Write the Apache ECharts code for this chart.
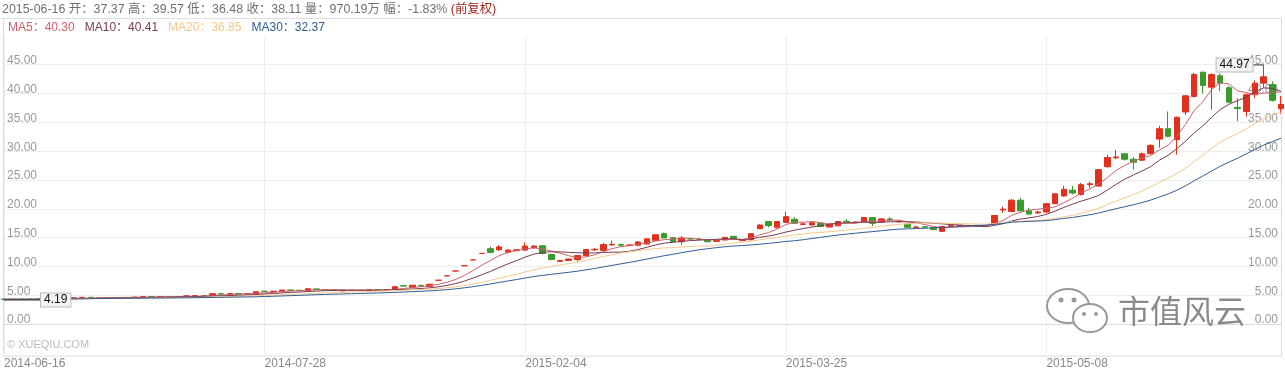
<!DOCTYPE html>
<html><head><meta charset="utf-8">
<script src="https://cdn.jsdelivr.net/npm/echarts@6/dist/echarts.min.js"></script>
<style>html,body{margin:0;padding:0;background:#fff}#c{width:1285px;height:370px}</style>
</head><body><div id="c"></div><script>
const dates=[
'2014-06-16','2014-06-17','2014-06-18','2014-06-19','2014-06-20','2014-06-23','2014-06-24','2014-06-25','2014-06-26','2014-06-27',
'2014-06-30','2014-07-01','2014-07-02','2014-07-03','2014-07-04','2014-07-07','2014-07-08','2014-07-09','2014-07-10','2014-07-11',
'2014-07-14','2014-07-15','2014-07-16','2014-07-17','2014-07-18','2014-07-21','2014-07-22','2014-07-23','2014-07-24','2014-07-25',
'2014-07-28','2014-07-29','2014-07-30','2014-07-31','2014-08-01','2014-08-04','2014-08-05','2014-08-06','2014-08-07','2014-08-08',
'2014-08-11','2014-08-12','2014-08-13','2014-08-14','2014-08-15','2014-08-18','2014-08-19','2014-08-20','2014-08-21','2014-08-22',
'2015-01-21','2015-01-22','2015-01-23','2015-01-26','2015-01-27','2015-01-28','2015-01-29','2015-01-30','2015-02-02','2015-02-03',
'2015-02-04','2015-02-05','2015-02-06','2015-02-09','2015-02-10','2015-02-11','2015-02-12','2015-02-13','2015-02-16','2015-02-17',
'2015-02-25','2015-02-26','2015-02-27','2015-03-02','2015-03-03','2015-03-04','2015-03-05','2015-03-06','2015-03-09','2015-03-10',
'2015-03-11','2015-03-12','2015-03-13','2015-03-16','2015-03-17','2015-03-18','2015-03-19','2015-03-20','2015-03-23','2015-03-24',
'2015-03-25','2015-03-26','2015-03-27','2015-03-30','2015-03-31','2015-04-01','2015-04-02','2015-04-03','2015-04-07','2015-04-08',
'2015-04-09','2015-04-10','2015-04-13','2015-04-14','2015-04-15','2015-04-16','2015-04-17','2015-04-20','2015-04-21','2015-04-22',
'2015-04-23','2015-04-24','2015-04-27','2015-04-28','2015-04-29','2015-04-30','2015-05-04','2015-05-05','2015-05-06','2015-05-07',
'2015-05-08','2015-05-11','2015-05-12','2015-05-13','2015-05-14','2015-05-15','2015-05-18','2015-05-19','2015-05-20','2015-05-21',
'2015-05-22','2015-05-25','2015-05-26','2015-05-27','2015-05-28','2015-05-29','2015-06-01','2015-06-02','2015-06-03','2015-06-04',
'2015-06-05','2015-06-08','2015-06-09','2015-06-10','2015-06-11','2015-06-12','2015-06-15','2015-06-16'];
const openP=[
4.35,4.30,4.33,4.31,4.34,4.38,4.36,4.40,4.45,4.58, 4.66,4.60,4.58,4.62,4.60,4.64,4.70,4.80,4.76,4.78,
4.74,4.80,4.92,4.96,4.95,5.28,5.22,5.30,5.24,5.25, 5.72,5.66,5.72,5.92,5.88,5.85,6.12,6.00,5.96,5.78,
5.84,5.86,5.84,5.95,5.88,5.98,6.68,6.42,6.74,6.55, 7.62,8.38,9.22,10.14,11.15,12.27,13.10,12.90,12.50,12.75,
12.85,13.25,13.60,12.10,10.90,11.05,11.20,11.90,12.90,12.80, 13.75,13.80,13.65,13.70,13.90,14.55,15.70,15.00,14.30,14.80,
14.75,14.55,14.35,14.60,15.24,14.50,14.66,16.55,17.80,16.80, 17.65,18.20,17.30,17.20,17.50,16.85,17.05,17.85,17.60,17.70,
18.50,17.70,18.25,17.75,17.35,16.75,16.90,16.80,16.10,17.00, 17.05,17.10,17.15,17.00,17.45,19.80,19.55,21.50,19.65,19.30,
19.45,20.90,22.25,23.25,22.50,24.20,23.95,27.30,28.85,29.55, 28.60,28.45,29.60,32.10,33.90,32.00,36.80,39.50,43.70,41.10,
43.10,41.00,37.60,36.90,39.80,41.80,41.55,37.37];
const closeP=[
4.30,4.33,4.31,4.34,4.38,4.36,4.40,4.45,4.60,4.66, 4.60,4.58,4.62,4.60,4.64,4.70,4.80,4.76,4.78,4.74,
4.80,4.92,4.96,4.93,5.28,5.22,5.30,5.24,5.32,5.62, 5.66,5.72,5.92,5.88,5.85,6.15,6.02,5.96,5.82,5.84,
5.86,5.84,5.95,5.88,5.98,6.50,6.60,6.76,6.66,6.93, 7.62,8.38,9.22,10.14,11.15,12.27,12.45,13.40,12.85,12.90,
13.55,13.55,12.25,11.20,11.05,11.30,11.90,12.94,12.98,13.80, 13.85,13.70,13.75,14.26,14.80,15.50,14.95,14.35,14.95,14.78,
14.72,14.30,14.50,15.05,14.80,14.65,15.70,17.20,17.10,17.80, 18.65,17.50,17.40,17.60,16.95,17.35,17.80,17.75,17.70,18.50,
17.50,18.26,18.15,17.85,16.80,16.85,16.80,16.40,16.95,17.10, 17.10,17.05,17.00,17.10,18.85,19.95,21.50,19.65,19.10,19.45,
20.90,22.60,23.40,22.75,24.20,24.35,26.80,28.90,29.00,28.60, 28.10,29.55,31.00,33.90,32.60,35.90,39.60,43.30,41.40,43.30,
41.80,38.50,37.40,39.80,41.80,42.90,38.82,38.11];
const lowP=[
4.19,4.25,4.27,4.28,4.30,4.32,4.33,4.37,4.43,4.55, 4.57,4.54,4.55,4.57,4.58,4.61,4.68,4.72,4.72,4.70,
4.72,4.78,4.88,4.88,4.93,5.17,5.18,5.20,5.21,5.22, 5.60,5.62,5.70,5.84,5.80,5.82,5.98,5.92,5.78,5.74,
5.80,5.80,5.82,5.85,5.86,5.96,6.55,6.38,6.62,6.50, 7.62,8.38,9.22,10.14,11.15,12.27,12.30,12.70,12.30,12.65,
12.70,13.10,12.10,11.10,10.80,11.00,10.85,11.80,12.70,12.60, 13.60,13.50,13.55,13.50,13.85,14.50,14.90,14.20,13.80,14.60,
14.60,14.20,14.30,14.55,14.75,14.40,14.50,16.50,16.80,16.60, 17.50,17.40,17.20,17.10,16.90,16.80,17.00,17.60,17.50,17.65,
17.00,17.60,17.90,17.65,16.75,16.50,16.70,16.35,16.05,16.90, 16.95,16.95,16.90,16.95,17.40,19.30,19.40,19.60,19.00,19.10,
19.30,20.80,22.10,22.50,22.30,23.60,23.90,27.20,28.60,28.40, 26.80,28.30,29.40,30.60,32.40,29.40,36.30,39.30,40.00,37.20,
40.40,38.30,35.20,36.00,39.20,41.00,38.60,36.48];
const highP=[
4.38,4.36,4.37,4.38,4.41,4.42,4.43,4.48,4.63,4.70, 4.68,4.63,4.65,4.66,4.67,4.73,4.84,4.83,4.82,4.81,
4.84,4.95,5.00,4.99,5.32,5.33,5.35,5.34,5.36,5.66, 5.76,5.75,5.95,5.96,5.92,6.20,6.16,6.04,6.00,5.88,
5.90,5.90,5.98,5.98,6.02,6.55,6.75,6.80,6.78,6.98, 7.62,8.38,9.22,10.14,11.15,12.27,13.50,13.70,12.95,13.05,
14.20,13.70,13.70,12.20,11.15,11.40,11.95,13.00,13.20,14.10, 14.50,13.95,13.85,14.40,14.90,15.60,15.90,15.10,15.30,14.95,
14.85,14.70,14.60,15.10,15.30,14.75,15.80,17.30,17.90,17.90, 19.50,18.60,17.60,17.70,17.60,17.45,17.90,18.20,17.80,18.60,
18.60,18.35,18.60,17.95,17.40,17.10,16.95,16.85,17.00,17.20, 17.20,17.15,17.20,17.15,18.90,20.40,21.70,21.90,20.20,19.70,
21.00,22.70,24.00,24.00,24.50,24.70,26.90,29.40,30.20,29.70, 29.00,29.80,31.20,34.40,36.90,36.00,39.80,43.60,43.80,43.50,
43.50,41.30,39.20,40.00,42.30,44.97,42.10,39.57];
const yTickValues=[0,5,10,15,20,25,30,35,40,45];
const maPeriods=[5,10,20,30];
const maNames=['MA5','MA10','MA20','MA30'];
const maLegendValues=['40.30','40.41','36.85','32.37'];
const maColors=['#d0606a','#7a3a50','#f6c88a','#2f5d94'];
const headerText='2015-06-16 开：37.37 高：39.57 低：36.48 收：38.11 量：970.19万 幅：-1.83% ';
const headerTag='(前复权)';

function ma(n){const r=[];for(let i=0;i<closeP.length;i++){const s=Math.max(0,i-n+1);let t=0;for(let j=s;j<=i;j++)t+=closeP[j];r.push(+(t/(i-s+1)).toFixed(3));}return r;}
const kdata=dates.map((d,i)=>[openP[i],closeP[i],lowP[i],highP[i]]);
let maxI=0,minI=0;for(let i=0;i<dates.length;i++){if(highP[i]>highP[maxI])maxI=i;if(lowP[i]<lowP[minI])minI=i;}

const FONT='"Liberation Sans", Arial, "Noto Sans CJK SC", sans-serif';
const chart=echarts.init(document.getElementById('c'),null,{renderer:'canvas'});
const yLab={inside:true,verticalAlign:'bottom',lineHeight:8,margin:3,color:'#999',fontSize:12,fontFamily:FONT,
  showMinLabel:false,showMaxLabel:false,formatter:v=>(yTickValues.indexOf(v)>=0?v.toFixed(2):'')};
chart.setOption({
  animation:false,
  title:[
    {left:2,top:3,padding:0,text:'{a|'+headerText+'}{b|'+headerTag+'}',textStyle:{fontWeight:'normal',rich:{
      a:{color:'#707070',fontSize:12.4,fontWeight:'normal',fontFamily:FONT},b:{color:'#a32a22',fontSize:12.4,fontWeight:'normal',fontFamily:FONT}}}},
    {left:8,top:22,padding:0,text:maNames.map((n,i)=>'{m'+i+'|'+n+'：'+maLegendValues[i]+'}').join(''),textStyle:{fontWeight:'normal',rich:
      Object.fromEntries(maNames.map((n,i)=>['m'+i,{color:maColors[i],fontSize:12,fontWeight:'normal',fontFamily:FONT,padding:[0,10,0,0]}]))}}
  ],
  grid:{left:4,right:4,top:35.9,bottom:13.9},
  xAxis:{type:'category',data:dates,boundaryGap:false,
    axisLine:{lineStyle:{color:'#ddd'}},axisTick:{show:false},
    axisLabel:{interval:29,align:'left',color:'#888',fontSize:12,fontFamily:FONT,margin:5},
    splitLine:{show:true,interval:29,lineStyle:{color:'#eee'}}},
  yAxis:[
    {type:'value',min:-5,max:50,interval:5,position:'left',axisLine:{show:false},axisTick:{show:false},
      axisLabel:Object.assign({align:'left'},yLab),
      splitLine:{show:true,showMinLine:false,showMaxLine:false,lineStyle:{color:'#eee'}}},
    {type:'value',min:-5,max:50,interval:5,position:'right',axisLine:{show:false},axisTick:{show:false},
      axisLabel:Object.assign({align:'right'},yLab),splitLine:{show:false}}
  ],
  graphic:[
    {type:'rect',shape:{x:3.5,y:18.5,width:1278,height:337.6},style:{fill:'none',stroke:'#ddd',lineWidth:1},z:-1,silent:true},
    {type:'line',shape:{x1:0,y1:18.5,x2:4,y2:18.5},style:{stroke:'#ddd'}},
    {type:'text',left:7,top:339,style:{text:'© XUEQIU.COM',fill:'#bbb',font:'11px '+FONT}},
    {type:'text',left:1118,top:295,style:{text:'市值风云',fill:'#8a8a8a',font:'32px "Noto Sans CJK SC"'},z:10},
    {type:'ellipse',shape:{cx:1068,cy:306,rx:21,ry:17},style:{fill:'#fff',stroke:'#999',lineWidth:2},z:10},
    {type:'ellipse',shape:{cx:1090,cy:318,rx:17,ry:14},style:{fill:'#fff',stroke:'#999',lineWidth:2},z:11},
    {type:'circle',shape:{cx:1061,cy:300,r:2.5},style:{fill:'#999'},z:12},
    {type:'circle',shape:{cx:1074,cy:300,r:2.5},style:{fill:'#999'},z:12},
    {type:'circle',shape:{cx:1084,cy:314,r:2},style:{fill:'#999'},z:12},
    {type:'circle',shape:{cx:1096,cy:314,r:2},style:{fill:'#999'},z:12}
  ],
  series:[
    {type:'candlestick',data:kdata,barWidth:6,
      itemStyle:{color:'#e0301e',color0:'#3a9b2c',borderColor:'#e0301e',borderColor0:'#3a9b2c',borderWidth:1},
      markPoint:{symbol:'rect',silent:true,data:[
        {coord:[maxI,highP[maxI]],value:highP[maxI].toFixed(2),symbolSize:[11,1],symbolOffset:[-5.5,0],itemStyle:{color:'#333'},
          label:{show:true,position:'left',distance:0,formatter:'{c}',color:'#111',fontSize:12,fontFamily:FONT,
            backgroundColor:'#f4f4f4',borderColor:'#bbb',borderWidth:1,padding:[1,3,0,3]}},
        {coord:[minI,lowP[minI]],value:lowP[minI].toFixed(2),symbolSize:[37,1],symbolOffset:[18.5,0],itemStyle:{color:'#333'},
          label:{show:true,position:'right',distance:0,formatter:'{c}',color:'#111',fontSize:12,fontFamily:FONT,
            backgroundColor:'#f4f4f4',borderColor:'#bbb',borderWidth:1,padding:[1,3,0,3]}}
      ]}},
    ...maPeriods.map((p,i)=>({type:'line',name:maNames[i],data:ma(p),symbol:'none',silent:true,
      lineStyle:{color:maColors[i],width:1},z:3}))
  ]
});
</script></body></html>
